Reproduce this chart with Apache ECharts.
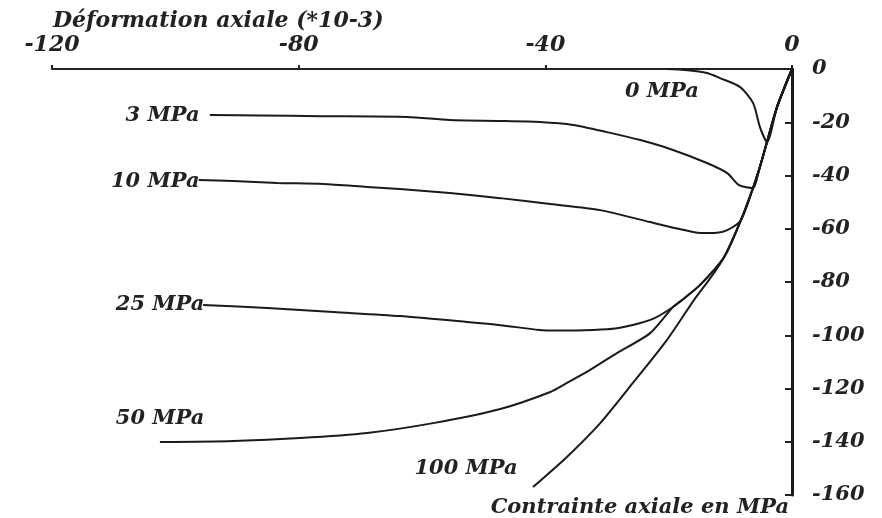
<!DOCTYPE html>
<html>
<head>
<meta charset="utf-8">
<script src="https://cdn.jsdelivr.net/npm/echarts@6/dist/echarts.min.js"></script>
<style>html,body{margin:0;padding:0;background:#fff}#c{width:882px;height:518px}</style>
</head>
<body>
<div id="c"></div>
<script>
// Axis setup
const xMin = -120, xMax = 0, xStep = 40;
const yMin = -160, yMax = 0, yStep = 20;
const xAxisName = 'Déformation axiale (*10-3)';
const yAxisName = 'Contrainte axiale en MPa';

// Confining pressure curves [strain *1e-3, axial stress MPa]
const c0 = [[0,0],[-2.43,-14.3],[-4.05,-27.4],[-5.2,-21.8],[-6.3,-12.8],[-8.4,-6.8],[-11.7,-3.4],[-13.8,-1.5],[-17.4,-0.4],[-20.3,0]];
const c3 = [[0,0],[-2.43,-14.3],[-4.05,-27.4],[-5.35,-37.9],[-6.32,-44.7],[-8.6,-43.6],[-10.5,-39.1],[-13.8,-35.3],[-19.3,-30.4],[-24.6,-26.7],[-30,-23.7],[-35.5,-21],[-40.9,-19.9],[-47.3,-19.5],[-55.5,-19.2],[-62.4,-18],[-76.5,-17.7],[-86.3,-17.5],[-94.4,-17.3]];
const c10 = [[0,0],[-2.43,-14.3],[-4.05,-27.4],[-5.35,-37.9],[-6.32,-44.7],[-8.27,-56.7],[-10.5,-60.5],[-12.5,-61.6],[-14.9,-61.6],[-18.2,-60.1],[-23,-57.5],[-31.1,-53],[-39.2,-50.7],[-47.3,-48.5],[-55.5,-46.6],[-63.6,-45.1],[-68.9,-44.3],[-76,-43.2],[-83.5,-42.8],[-90.6,-42.1],[-96.2,-41.7]];
const c25 = [[0,0],[-2.43,-14.3],[-4.05,-27.4],[-5.35,-37.9],[-6.32,-44.7],[-8.27,-56.7],[-11.0,-70.6],[-14.9,-81.1],[-17.4,-86],[-19.3,-89.4],[-22.2,-93.5],[-24.6,-95.4],[-28.7,-97.5],[-32.3,-98],[-37.8,-98.2],[-41,-98],[-47.3,-96.2],[-52.7,-95],[-63.6,-92.8],[-74.4,-91.3],[-85.1,-89.8],[-95.5,-88.6]];
const c50 = [[0,0],[-2.43,-14.3],[-4.05,-27.4],[-5.35,-37.9],[-6.32,-44.7],[-8.27,-56.7],[-11.0,-70.6],[-14.9,-81.1],[-17.4,-86],[-19.3,-89.4],[-23,-99.2],[-28.4,-106.7],[-32.8,-113.1],[-36.5,-117.9],[-39.2,-121.3],[-47.3,-127.7],[-58.2,-133],[-68.9,-136.7],[-79.8,-138.6],[-90.6,-139.7],[-102.5,-140.1]];
const c100 = [[0,0],[-2.43,-14.3],[-4.05,-27.4],[-5.35,-37.9],[-6.32,-44.7],[-8.27,-56.7],[-11.0,-70.6],[-13.1,-78.1],[-15.9,-86.8],[-20.3,-101.8],[-25.8,-117.9],[-31.1,-133],[-36.5,-145.7],[-42.0,-157.0]];

const curveNames = ['0 MPa','3 MPa','10 MPa','25 MPa','50 MPa','100 MPa'];
const curves = [c0, c3, c10, c25, c50, c100];
// label anchors (data coords)
const labelAt = [[-21.1,-8.6],[-96.0,-17.3],[-96.0,-42.4],[-95.2,-88.6],[-95.2,-131.1],[-44.4,-149.9]];
const labelPos = ['inside','left','left','left','left','left'];

const font = {fontFamily:'DejaVu Serif', fontStyle:'italic', fontWeight:'bold', color:'#222', fontSize:21};

const chart = echarts.init(document.getElementById('c'), null, {renderer:'canvas'});
chart.setOption({
  animation:false,
  backgroundColor:'#fff',
  title:[
    {text:xAxisName, left:48, top:5, textStyle:Object.assign({}, font, {fontSize:22})},
    {text:yAxisName, right:88, top:492, textStyle:Object.assign({}, font, {fontSize:21})}
  ],
  grid:{left:52, right:90, top:69, bottom:23, containLabel:false},
  xAxis:{type:'value', position:'top', min:xMin, max:xMax, interval:xStep,
    axisLine:{onZero:false, lineStyle:{color:'#222', width:2}},
    axisTick:{show:true, length:4, lineStyle:{color:'#222', width:2}},
    axisLabel:Object.assign({}, font, {margin:13, fontSize:22}),
    splitLine:{show:false}},
  yAxis:{type:'value', position:'right', min:yMin, max:yMax, interval:yStep,
    axisLine:{onZero:false, lineStyle:{color:'#1a1a1a', width:3}},
    axisTick:{show:true, inside:true, length:7, lineStyle:{color:'#222', width:2}},
    axisLabel:Object.assign({}, font, {margin:20, fontSize:21}),
    splitLine:{show:false}},
  series: curves.map((d,i)=>({
    name:curveNames[i], type:'line', data:d, showSymbol:false, smooth:0.25,
    lineStyle:{color:'#1a1a1a', width:2},
    markPoint:{symbol:'circle', symbolSize:1, itemStyle:{color:'rgba(0,0,0,0)'},
      label:Object.assign({show:true, formatter:curveNames[i], position:labelPos[i], distance:0}, font),
      data:[{coord:labelAt[i]}]}
  }))
});
</script>
</body>
</html>
